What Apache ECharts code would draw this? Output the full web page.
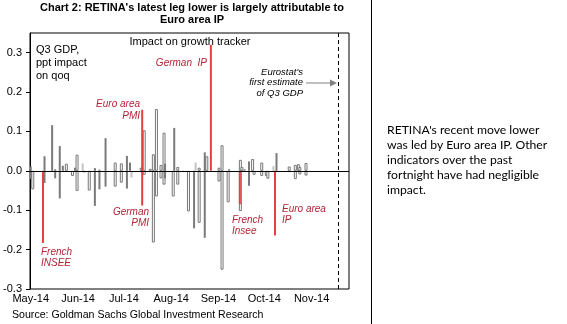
<!DOCTYPE html>
<html>
<head>
<meta charset="utf-8">
<script src="https://cdn.jsdelivr.net/npm/echarts@6/dist/echarts.min.js"></script>
<style>
  html, body { margin: 0; padding: 0; background: #fff; }
  #chart { width: 567px; height: 324px; }
</style>
</head>
<body>
<div id="chart"></div>
<script>
// Daily category range of the x axis
const xStart = '2014-05-01';
const xEnd = '2014-11-25';
const monthLabels = ['May-14', 'Jun-14', 'Jul-14', 'Aug-14', 'Sep-14', 'Oct-14', 'Nov-14'];
const yTickValues = [-0.3, -0.2, -0.1, 0, 0.1, 0.2, 0.3];
const eurostatFlashDate = '2014-11-18';

// Impact of each data release on the Q3 GDP tracker (ppt, qoq)
const hollowBars = [
  ['2014-05-02', -0.047], ['2014-05-24', 0.018], ['2014-05-28', -0.013],
  ['2014-05-31', 0.041], ['2014-05-31', -0.051], ['2014-06-08', -0.05],
  ['2014-06-25', 0.021], ['2014-06-25', -0.04], ['2014-06-29', 0.019], ['2014-06-29', -0.03],
  ['2014-07-12', 0.008], ['2014-07-14', 0.103], ['2014-07-14', -0.01], ['2014-07-18', 0.005],
  ['2014-07-20', 0.042], ['2014-07-20', -0.182], ['2014-07-22', 0.157], ['2014-07-22', -0.065],
  ['2014-07-25', 0.015], ['2014-07-25', -0.019], ['2014-07-27', 0.097], ['2014-07-27', -0.035],
  ['2014-08-02', -0.065], ['2014-08-05', 0.01], ['2014-08-05', -0.035], ['2014-08-12', -0.103],
  ['2014-08-19', 0.008], ['2014-08-19', -0.132], ['2014-08-24', 0.037],
  ['2014-09-01', 0.008], ['2014-09-01', -0.027], ['2014-09-03', 0.065], ['2014-09-03', -0.251],
  ['2014-09-07', -0.08], ['2014-09-15', 0.028], ['2014-09-15', -0.102], ['2014-09-16', 0.01],
  ['2014-09-23', 0.03], ['2014-09-24', -0.01], ['2014-09-29', 0.021], ['2014-09-29', -0.013],
  ['2014-10-02', -0.013], ['2014-10-03', -0.02], ['2014-10-17', 0.011],
  ['2014-10-21', 0.015], ['2014-10-21', -0.021], ['2014-10-23', 0.017],
  ['2014-10-24', 0.01], ['2014-10-24', -0.009], ['2014-10-28', 0.02], ['2014-10-28', -0.012]
];
const darkBars = [
  ['2014-05-01', 0.011], ['2014-05-01', -0.021], ['2014-05-10', 0.037], ['2014-05-10', -0.031],
  ['2014-05-15', 0.116], ['2014-05-17', 0.004], ['2014-05-17', -0.019],
  ['2014-05-20', 0.063], ['2014-05-20', -0.07], ['2014-05-22', 0.013], ['2014-05-30', 0.008],
  ['2014-06-05', -0.004], ['2014-06-12', 0.007], ['2014-06-12', -0.089],
  ['2014-06-15', 0.003], ['2014-06-15', -0.047], ['2014-06-19', 0.083], ['2014-06-19', -0.04],
  ['2014-07-03', 0.038], ['2014-07-03', -0.045], ['2014-07-05', 0.021],
  ['2014-07-28', 0.018], ['2014-07-28', -0.019], ['2014-08-03', 0.109], ['2014-08-09', -0.003],
  ['2014-08-16', -0.146], ['2014-08-23', 0.047], ['2014-08-23', -0.17],
  ['2014-09-08', 0.004], ['2014-09-18', 0.004], ['2014-09-21', 0.024], ['2014-09-21', -0.038],
  ['2014-10-09', 0.045]
];
const lightBars = [
  ['2014-06-04', 0.019], ['2014-07-06', -0.017], ['2014-08-17', 0.021], ['2014-10-07', 0.012]
];
const redBars = [
  ['2014-05-09', -0.183], ['2014-07-13', 0.155], ['2014-07-13', -0.088],
  ['2014-08-27', 0.32], ['2014-09-15', -0.085], ['2014-10-08', -0.164]
];

function dayList(a, b) {
  const out = [];
  let d = new Date(a + 'T00:00:00Z');
  const e = new Date(b + 'T00:00:00Z');
  while (d <= e) {
    out.push(d.toISOString().slice(0, 10));
    d = new Date(d.getTime() + 86400000);
  }
  return out;
}
const days = dayList(xStart, xEnd);

const FONT = '"Liberation Sans", Arial, sans-serif';
const RED_TEXT = '#b32437';

function barSeries(name, data, width, style) {
  return {
    name, type: 'bar', data, barWidth: width, barGap: '-100%',
    itemStyle: style, silent: true
  };
}

const chart = echarts.init(document.getElementById('chart'), null, { renderer: 'canvas' });
chart.setOption({
  animation: false,
  grid: { left: 30, top: 33, width: 319, height: 256, show: true, borderColor: '#000', borderWidth: 1, backgroundColor: 'transparent' },
  xAxis: {
    type: 'category', data: days, boundaryGap: true,
    axisLine: { show: false, onZero: false },
    axisTick: { show: false },
    axisLabel: {
      interval: (i, v) => v.slice(8, 10) === '01',
      formatter: v => monthLabels[parseInt(v.slice(5, 7), 10) - 5],
      color: '#000', fontFamily: FONT, fontSize: 11, margin: 4
    },
    splitLine: { show: false }
  },
  yAxis: {
    type: 'value', min: -0.3, max: 0.35,
    axisLine: { show: true, lineStyle: { color: '#000' } },
    axisTick: { show: true, length: 4, lineStyle: { color: '#000' }, customValues: yTickValues },
    axisLabel: { color: '#000', fontFamily: FONT, fontSize: 11, margin: 8, customValues: yTickValues, formatter: v => v.toFixed(1) },
    splitLine: { show: false }
  },
  series: [
    Object.assign(barSeries('hollow', hollowBars, 3, { color: '#ffffff', borderColor: '#777777', borderWidth: 1 }), {
      markLine: {
        silent: true, symbol: 'none', label: { show: false },
        data: [
          { yAxis: 0, lineStyle: { color: '#000', width: 1, type: 'solid' } },
          { xAxis: eurostatFlashDate, lineStyle: { color: '#000', width: 1, type: [4, 3] } }
        ]
      }
    }),
    barSeries('light', lightBars, 2, { color: '#c4c4c4' }),
    barSeries('dark', darkBars, 2, { color: '#7a7a7a' }),
    barSeries('red', redBars, 2, { color: '#e3413f' })
  ],
  graphic: [
    { type: 'text', x: 192, y: 14, style: { text: "Chart 2: RETINA's latest leg lower is largely attributable to\nEuro area IP", align: 'center', verticalAlign: 'middle', lineHeight: 12, fill: '#000', font: 'bold 11px "Liberation Sans Narrow", "Liberation Sans", sans-serif' } },
    { type: 'text', x: 36, y: 43, style: { text: 'Q3 GDP,\nppt impact\non qoq', align: 'left', verticalAlign: 'top', lineHeight: 13, fill: '#000', font: '11px ' + FONT } },
    { type: 'text', x: 190, y: 42, style: { text: 'Impact on growth tracker', align: 'center', verticalAlign: 'middle', fill: '#000', font: '11px ' + FONT } },
    { type: 'text', x: 207, y: 63, style: { text: 'German  IP', align: 'right', verticalAlign: 'middle', fill: RED_TEXT, font: 'italic 10px ' + FONT } },
    { type: 'text', x: 140, y: 98, style: { text: 'Euro area\nPMI', align: 'right', verticalAlign: 'top', lineHeight: 12, fill: RED_TEXT, font: 'italic 10px ' + FONT } },
    { type: 'text', x: 149, y: 207, style: { text: 'German\nPMI', align: 'right', verticalAlign: 'top', lineHeight: 11, fill: RED_TEXT, font: 'italic 10px ' + FONT } },
    { type: 'text', x: 41, y: 247, style: { text: 'French\nINSEE', align: 'left', verticalAlign: 'top', lineHeight: 11, fill: RED_TEXT, font: 'italic 10px ' + FONT } },
    { type: 'text', x: 232, y: 215, style: { text: 'French\nInsee', align: 'left', verticalAlign: 'top', lineHeight: 11, fill: RED_TEXT, font: 'italic 10px ' + FONT } },
    { type: 'text', x: 282, y: 204, style: { text: 'Euro area\nIP', align: 'left', verticalAlign: 'top', lineHeight: 11, fill: RED_TEXT, font: 'italic 10px ' + FONT } },
    { type: 'text', x: 303, y: 67, style: { text: "Eurostat's\nfirst estimate\nof Q3 GDP", align: 'right', verticalAlign: 'top', lineHeight: 10.5, fill: '#000', font: 'italic 9.5px ' + FONT } },
    { type: 'line', shape: { x1: 306, y1: 83, x2: 331, y2: 83 }, style: { stroke: '#808080', lineWidth: 1 } },
    { type: 'polygon', shape: { points: [[337, 83], [330, 79.5], [330, 86.5]] }, style: { fill: '#808080' } },
    { type: 'text', x: 12, y: 315, style: { text: 'Source: Goldman Sachs Global Investment Research', align: 'left', verticalAlign: 'middle', fill: '#000', font: '10.6px ' + FONT } },
    { type: 'line', shape: { x1: 371.5, y1: 0, x2: 371.5, y2: 324 }, style: { stroke: '#000', lineWidth: 1 } },
    { type: 'text', x: 387, y: 123, style: { text: "RETINA's recent move lower\nwas led by Euro area IP. Other\nindicators over the past\nfortnight have had negligible\nimpact.", align: 'left', verticalAlign: 'top', lineHeight: 15, fill: '#000', font: '12.2px Lato, "Open Sans", sans-serif' } }
  ]
});
</script>
</body>
</html>
